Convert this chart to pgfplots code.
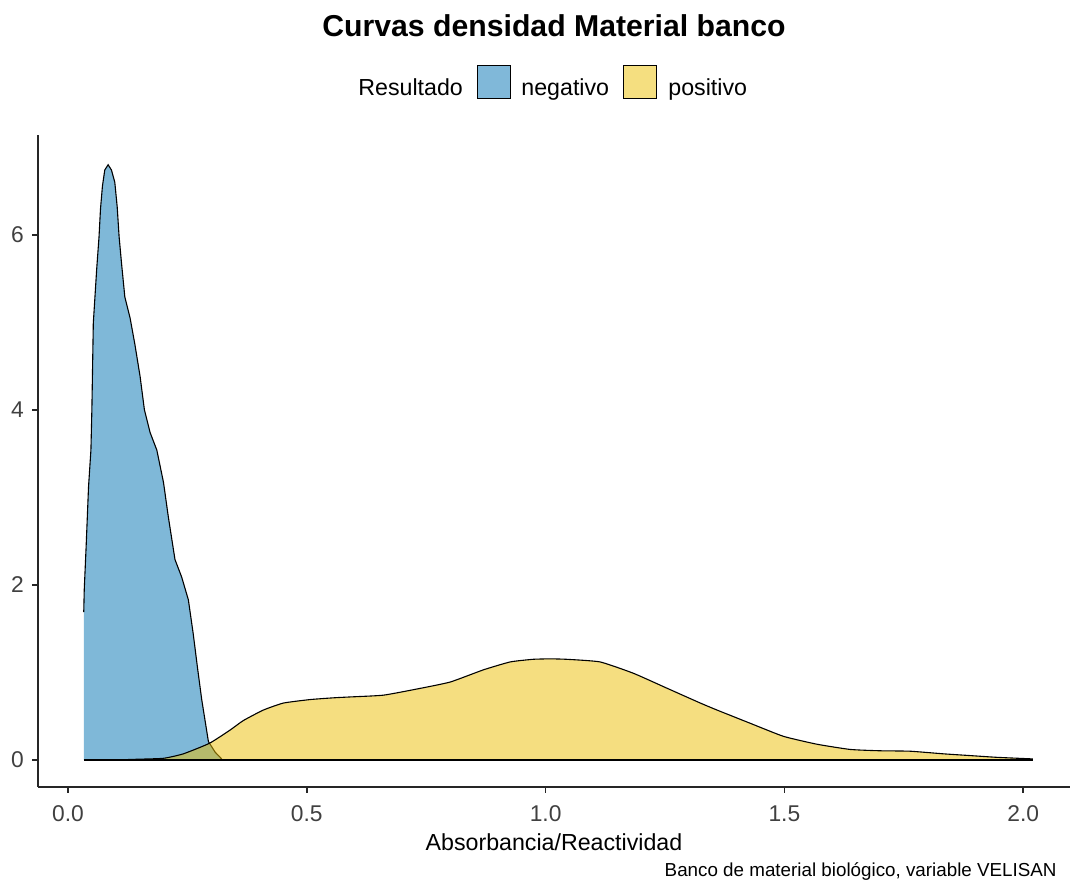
\documentclass[border=0pt]{standalone}
\usepackage{fontspec}
\setmainfont{Liberation Sans}
\usepackage{pgfplots}
\usepackage{pgfplotstable}
\pgfplotsset{compat=1.18}
\definecolor{negbase}{RGB}{0,114,178}
\definecolor{posbase}{RGB}{236,190,2}
\definecolor{negkey}{RGB}{128,184,217}
\definecolor{poskey}{RGB}{245,223,128}

\pgfplotstableread{
x y
0.033 1.69
0.034 1.94
0.038 2.44
0.043 3.12
0.048 3.54
0.050 4.00
0.053 4.99
0.060 5.60
0.065 5.98
0.068 6.29
0.072 6.55
0.077 6.74
0.084 6.80
0.091 6.74
0.098 6.60
0.103 6.32
0.107 5.98
0.112 5.68
0.119 5.29
0.130 5.05
0.140 4.75
0.151 4.38
0.160 4.00
0.172 3.74
0.186 3.54
0.200 3.17
0.210 2.78
0.224 2.29
0.238 2.09
0.252 1.83
0.262 1.45
0.271 1.06
0.280 0.69
0.294 0.21
0.308 0.09
0.322 0.01
}\negtable

\pgfplotstableread{
x y
0.100 0.000
0.144 0.008
0.200 0.019
0.241 0.069
0.296 0.19
0.339 0.34
0.367 0.45
0.409 0.57
0.451 0.65
0.507 0.69
0.556 0.71
0.591 0.72
0.660 0.74
0.730 0.81
0.800 0.89
0.870 1.03
0.926 1.12
0.974 1.15
1.010 1.155
1.044 1.15
1.114 1.12
1.184 0.99
1.254 0.82
1.324 0.65
1.359 0.57
1.428 0.42
1.498 0.27
1.568 0.18
1.638 0.12
1.700 0.105
1.763 0.10
1.833 0.07
1.889 0.05
1.945 0.03
2.020 0.012
}\postable

\begin{document}
\begin{tikzpicture}
\useasboundingbox (-19pt,-50.5pt) rectangle (518pt,393.5pt);
\begin{axis}[
  at={(0,0)}, anchor=south west,
  width=516pt, height=326pt, scale only axis,
  xmin=-0.0628, xmax=2.098, ymin=-0.309, ymax=7.14,
  axis lines*=left,
  axis line style={line width=0.75pt, black!85, -},
  tick style={line width=0.75pt, black!85},
  tick align=outside,
  major tick length=2.9pt,
  xtick={0,0.5,1,1.5,2},
  xticklabels={0.0,0.5,1.0,1.5,2.0},
  ytick={0,2,4,6},
  /pgf/number format/assume math mode=true,
  ticklabel style={font=\fontsize{11.4}{13}\selectfont, text=black!75},
  xticklabel style={anchor=base, inner sep=0pt, yshift=-14.1pt},
  yticklabel style={anchor=east, inner sep=0pt, xshift=-4pt},
  xlabel={Absorbancia/Reactividad},
  xlabel style={at={(axis description cs:0.5,0)}, anchor=base, inner sep=0pt, yshift=-31.5pt, font=\fontsize{11.6}{13}\selectfont},
  clip=false,
]
\addplot[draw=none, fill=negbase, fill opacity=0.5] table {\negtable} \closedcycle;
\addplot[black, line width=0.55pt] table {\negtable};
\addplot[draw=none, fill=posbase, fill opacity=0.5, smooth, tension=0.3] table {\postable} \closedcycle;
\addplot[black, line width=0.55pt, smooth, tension=0.3] table {\postable};
\addplot[black, line width=0.55pt] coordinates {(0.033,0) (2.020,0)};
\end{axis}
% title
\node[anchor=base, inner sep=0pt, font=\fontsize{15.1}{17}\selectfont\bfseries] at (258pt,375.2pt) {Curvas densidad Material banco};
% legend
\node[anchor=base west, inner sep=0pt, font=\fontsize{11.6}{13}\selectfont] at (160pt,345.7pt) {Resultado};
\fill[negkey] (219.5pt,344pt) rectangle (236pt,360.5pt);
\draw[black, line width=0.5pt] (219.5pt,344pt) rectangle (236pt,360.5pt);
\node[anchor=base west, inner sep=0pt, font=\fontsize{11.6}{13}\selectfont] at (241.5pt,345.7pt) {negativo};
\fill[poskey] (292.5pt,344pt) rectangle (309pt,360.5pt);
\draw[black, line width=0.5pt] (292.5pt,344pt) rectangle (309pt,360.5pt);
\node[anchor=base west, inner sep=0pt, font=\fontsize{11.6}{13}\selectfont] at (315pt,345.7pt) {positivo};
% caption
\node[anchor=base east, inner sep=0pt, font=\fontsize{9.4}{11}\selectfont] at (509.5pt,-44.8pt) {Banco de material biológico, variable VELISAN};
\end{tikzpicture}
\end{document}
